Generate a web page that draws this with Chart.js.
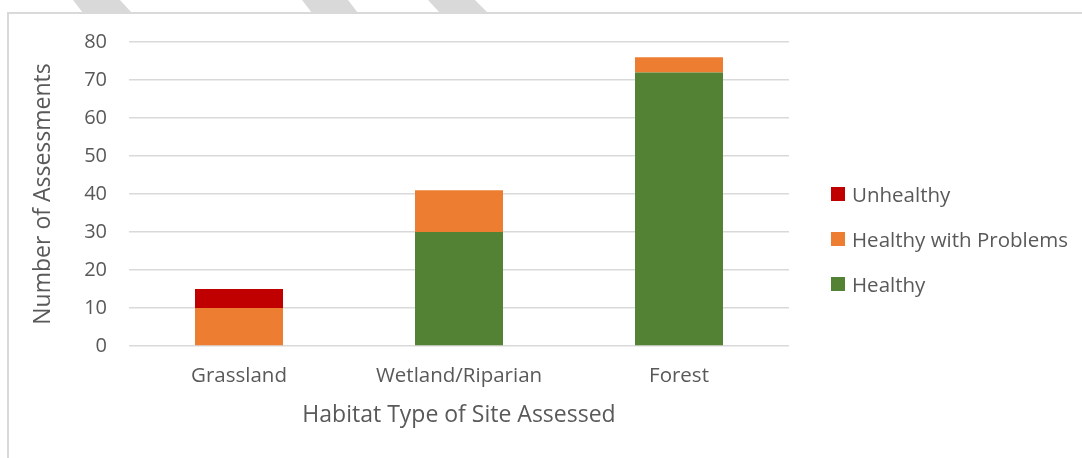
<!DOCTYPE html>
<html>
<head>
<meta charset="utf-8">
<script src="https://cdn.jsdelivr.net/npm/chart.js@4.4.1/dist/chart.umd.min.js"></script>
<style>
  html, body { margin: 0; padding: 0; background: #fff; }
  #wrap { position: relative; width: 1082px; height: 458px; overflow: hidden; font-family: 'Open Sans', sans-serif; }
  #frame { position: absolute; left: 7px; top: 12px; width: 1200px; height: 600px;
           border-top: 2px solid #d9d9d9; border-left: 2px solid #d9d9d9; }
  #stripes { position: absolute; left: 0; top: 0; }
  #chart { position: absolute; left: 0; top: 0; }
  #legend { position: absolute; left: 831px; top: 180px; color: #595959; font-size: 20.5px; }
  .item { position: relative; height: 45px; line-height: 28px; padding-left: 21px; white-space: nowrap; }
  .item span { position: absolute; left: 0; top: 7px; width: 14px; height: 14px; }
</style>
</head>
<body>
<div id="wrap">
  <svg id="stripes" width="1082" height="14">
    <polygon points="73,0 120,0 132,13 83,13" fill="#d9d9d9"/>
    <polygon points="302,0 348,0 358,13 312,13" fill="#d9d9d9"/>
    <polygon points="428,0 475,0 488,13 440,13" fill="#d9d9d9"/>
  </svg>
  <div id="frame"></div>
  <canvas id="chart" width="1082" height="458"></canvas>
  <div id="legend"></div>
</div>
<script>
const categories = ['Grassland', 'Wetland/Riparian', 'Forest'];
const healthy = [0, 30, 72];
const healthyWithProblems = [10, 11, 4];
const unhealthy = [5, 0, 0];
const yTicks = [0, 10, 20, 30, 40, 50, 60, 70, 80];

const textColor = '#595959';
const gridColor = '#d9d9d9';

const datasets = [
  { label: 'Healthy', data: healthy, backgroundColor: '#548235' },
  { label: 'Healthy with Problems', data: healthyWithProblems, backgroundColor: '#ed7d31' },
  { label: 'Unhealthy', data: unhealthy, backgroundColor: '#c00000' },
].map(d => ({ ...d, barPercentage: 0.4, categoryPercentage: 1, borderWidth: 0 }));

function renderLegend() {
  const legendEl = document.getElementById('legend');
  datasets.slice().reverse().forEach(d => {
    const row = document.createElement('div');
    row.className = 'item';
    row.innerHTML = `<span style="background:${d.backgroundColor}"></span>${d.label}`;
    legendEl.appendChild(row);
  });
}

const ctx = document.getElementById('chart').getContext('2d');
new Chart(ctx, {
  type: 'bar',
  data: { labels: categories, datasets },
  options: {
    responsive: false,
    animation: false,
    layout: { padding: { top: 42, right: 293, bottom: 0, left: 0 } },
    plugins: { legend: { display: false }, tooltip: { enabled: false } },
    scales: {
      x: {
        stacked: true,
        grid: { display: false, drawTicks: false },
        border: { display: false },
        ticks: { color: textColor, font: { family: 'Open Sans', size: 20.5 }, padding: 18 },
        title: {
          display: true, text: 'Habitat Type of Site Assessed', color: textColor,
          font: { family: 'Open Sans', size: 23 }, padding: { bottom: 29 }
        },
        afterFit: scale => { scale.height = 112; }
      },
      y: {
        stacked: true,
        min: yTicks[0],
        max: yTicks[yTicks.length - 1],
        afterBuildTicks: scale => { scale.ticks = yTicks.map(v => ({ value: v })); },
        grid: { color: gridColor, lineWidth: 1.4, drawTicks: false },
        border: { display: false },
        ticks: { color: textColor, font: { family: 'Open Sans', size: 20 }, padding: 22 },
        title: {
          display: true, text: 'Number of Assessments', color: textColor,
          font: { family: 'Open Sans', size: 23 }, padding: { top: 30 }
        },
        afterFit: scale => { scale.width = 129; }
      }
    }
  }
});

renderLegend();
</script>
</body>
</html>
